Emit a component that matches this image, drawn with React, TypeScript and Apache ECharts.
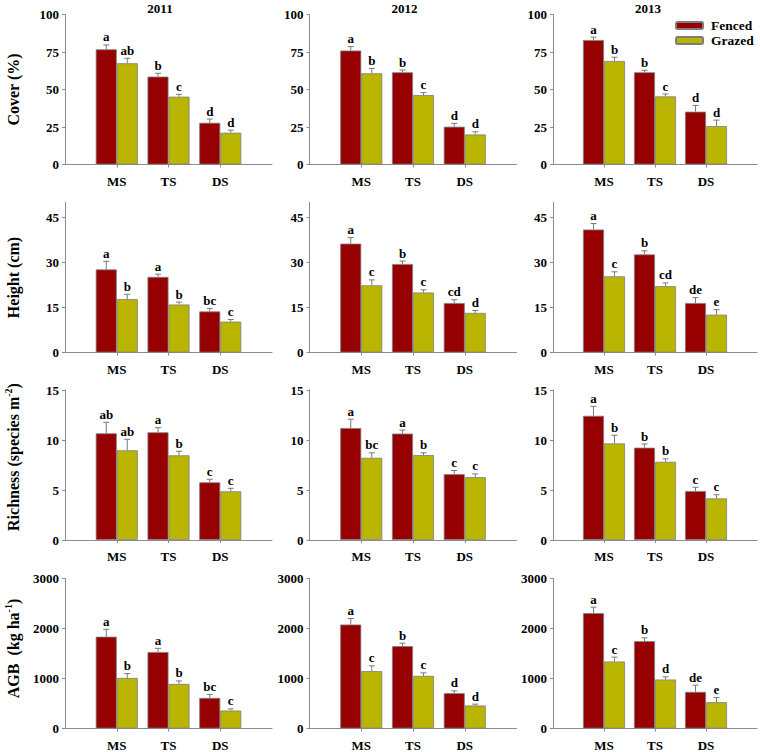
import React, { useEffect, useRef } from "react";
import * as echarts from "echarts";

const sites = ["", "MS", "TS", "DS", ""];
const years = ["2011", "2012", "2013"];

// Cover (%) — per year: [MS, TS, DS]
const coverFenced = [[76.8, 58.6, 27.8], [76.0, 61.5, 25.2], [83.0, 61.5, 35.2]];
const coverFencedSE = [[2.9, 2.2, 2.5], [2.6, 1.5, 2.2], [1.9, 1.3, 4.2]];
const coverGrazed = [[67.5, 45.2, 21.2], [60.8, 46.3, 20.0], [69.0, 45.4, 25.6]];
const coverGrazedSE = [[3.3, 1.6, 1.7], [3.2, 1.6, 1.8], [2.5, 1.6, 4.0]];
const coverFencedLetters = [["a", "b", "d"], ["a", "b", "d"], ["a", "b", "d"]];
const coverGrazedLetters = [["ab", "c", "d"], ["b", "c", "d"], ["b", "c", "d"]];

// Height (cm)
const heightFenced = [[27.7, 25.2, 13.7], [36.3, 29.5, 16.5], [41.0, 32.7, 16.5]];
const heightFencedSE = [[2.7, 0.9, 1.0], [2.0, 1.0, 1.1], [2.0, 1.2, 1.8]];
const heightGrazed = [[17.8, 16.0, 10.3], [22.4, 20.0, 13.2], [25.4, 22.1, 12.6]];
const heightGrazedSE = [[1.6, 0.8, 0.7], [1.8, 0.9, 0.8], [1.5, 1.1, 1.7]];
const heightFencedLetters = [["a", "a", "bc"], ["a", "b", "cd"], ["a", "b", "de"]];
const heightGrazedLetters = [["b", "b", "c"], ["c", "c", "d"], ["c", "cd", "e"]];

// Richness (species m-2)
const richFenced = [[10.67, 10.77, 5.77], [11.2, 10.64, 6.58], [12.42, 9.23, 4.9]];
const richFencedSE = [[1.1, 0.46, 0.3], [0.88, 0.36, 0.37], [0.94, 0.37, 0.37]];
const richGrazed = [[8.97, 8.47, 4.87], [8.22, 8.49, 6.28], [9.66, 7.82, 4.16]];
const richGrazedSE = [[1.1, 0.4, 0.3], [0.5, 0.23, 0.33], [0.81, 0.3, 0.37]];
const richFencedLetters = [["ab", "a", "c"], ["a", "a", "c"], ["a", "b", "c"]];
const richGrazedLetters = [["ab", "b", "c"], ["bc", "b", "c"], ["b", "b", "c"]];

// AGB (kg ha-1)
const agbFenced = [[1836, 1530, 612], [2080, 1647, 707], [2307, 1747, 733]];
const agbFencedSE = [[147, 73, 67], [120, 60, 46], [120, 66, 134]];
const agbGrazed = [[1011, 891, 359], [1147, 1053, 460], [1340, 980, 527]];
const agbGrazedSE = [[87, 60, 34], [106, 60, 27], [87, 53, 93]];
const agbFencedLetters = [["a", "a", "bc"], ["a", "b", "d"], ["a", "b", "de"]];
const agbGrazedLetters = [["b", "b", "c"], ["c", "c", "d"], ["c", "d", "e"]];

const yMaxes = [100, 50, 15, 3000];
const yTickValues = [
  [0, 25, 50, 75, 100],
  [0, 15, 30, 45],
  [0, 5, 10, 15],
  [0, 1000, 2000, 3000],
];
const yNames = [
  "{n|Cover (%)}",
  "{n|Height (cm)}",
  "{n|Richness (species m}{s|-2}{n|)}",
  "{n|AGB  (kg ha}{s|-1}{n|)}",
];

const FONT = '"Liberation Serif", "Times New Roman", serif';
const RED = "#970000";
const OLIVE = "#B9B500";

export default function App() {
  const ref = useRef<HTMLDivElement>(null);
  useEffect(() => {
    if (!ref.current) return;
    const chart = echarts.init(ref.current, null, { renderer: "svg" });

    const metrics = [
      [coverFenced, coverFencedSE, coverGrazed, coverGrazedSE, coverFencedLetters, coverGrazedLetters],
      [heightFenced, heightFencedSE, heightGrazed, heightGrazedSE, heightFencedLetters, heightGrazedLetters],
      [richFenced, richFencedSE, richGrazed, richGrazedSE, richFencedLetters, richGrazedLetters],
      [agbFenced, agbFencedSE, agbGrazed, agbGrazedSE, agbFencedLetters, agbGrazedLetters],
    ] as any[];

    const colLefts = [65, 309.5, 553];
    const rowTops = [14.5, 202.5, 390, 578.5];
    const namePads = [[0, 0, 0, 0], [0, 0, 0, 0], [0, 0, 0, 16], [0, 0, 0, 10]];
    const gw = 207;
    const gh = 150;
    const barW = 21;

    const grid: any[] = [];
    const xAxis: any[] = [];
    const yAxis: any[] = [];
    const series: any[] = [];
    const graphic: any[] = [];

    for (let r = 0; r < 4; r++) {
      for (let c = 0; c < 3; c++) {
        const idx = r * 3 + c;
        grid.push({ left: colLefts[c], top: rowTops[r], width: gw, height: gh, containLabel: false });
        xAxis.push({
          type: "category",
          gridIndex: idx,
          data: sites,
          boundaryGap: false,
          axisLine: { lineStyle: { color: "#8c8c8c", width: 1 } },
          axisTick: {
            show: true,
            length: 3,
            interval: (i: number) => i >= 1 && i <= 3,
            lineStyle: { color: "#8c8c8c" },
          },
          axisLabel: {
            interval: 0,
            margin: 10,
            color: "#000",
            fontFamily: FONT,
            fontWeight: "bold",
            fontSize: 13,
          },
          splitLine: { show: false },
        });
        yAxis.push({
          type: "value",
          gridIndex: idx,
          min: 0,
          max: yMaxes[r],
          interval: yTickValues[r][1],
          name: c === 0 ? yNames[r] : "",
          nameLocation: "middle",
          nameRotate: 90,
          nameGap: 42,
          nameTextStyle: {
            padding: namePads[r],
            rich: {
              n: { fontFamily: FONT, fontWeight: "bold", fontSize: 16, color: "#000", lineHeight: 20 },
              s: { fontFamily: FONT, fontWeight: "bold", fontSize: 10, color: "#000", verticalAlign: "top", lineHeight: 20 },
            },
          },
          axisLine: { show: true, lineStyle: { color: "#8c8c8c", width: 1 } },
          axisTick: {
            show: true,
            length: 3,
            customValues: yTickValues[r],
            lineStyle: { color: "#8c8c8c" },
          },
          axisLabel: {
            customValues: yTickValues[r],
            formatter: (v: number) => String(v),
            margin: 6,
            color: "#000",
            fontFamily: FONT,
            fontWeight: "bold",
            fontSize: 13,
          },
          splitLine: { show: false },
        });

        const m = metrics[r];
        const fVals = m[0][c], fSE = m[1][c], gVals = m[2][c], gSE = m[3][c];
        const fLet = m[4][c], gLet = m[5][c];

        series.push({
          type: "bar",
          name: "Fenced",
          xAxisIndex: idx,
          yAxisIndex: idx,
          data: ["-", ...fVals, "-"],
          barWidth: barW,
          barGap: "0%",
          itemStyle: { color: RED, borderColor: "#7d7d7d", borderWidth: 0.8 },
        });
        series.push({
          type: "bar",
          name: "Grazed",
          xAxisIndex: idx,
          yAxisIndex: idx,
          data: ["-", ...gVals, "-"],
          barWidth: barW,
          barGap: "0%",
          itemStyle: { color: OLIVE, borderColor: "#7d7d7d", borderWidth: 0.8 },
        });

        const errData: number[][] = [];
        const letters: string[] = [];
        for (let k = 0; k < 3; k++) {
          errData.push([k + 1, fVals[k], fSE[k], 0]);
          letters.push(fLet[k]);
          errData.push([k + 1, gVals[k], gSE[k], 1]);
          letters.push(gLet[k]);
        }
        series.push({
          type: "custom",
          xAxisIndex: idx,
          yAxisIndex: idx,
          z: 5,
          clip: false,
          silent: true,
          data: errData,
          renderItem: (params: any, api: any) => {
            const x = api.value(0);
            const v = api.value(1);
            const se = api.value(2);
            const g = api.value(3);
            const base = api.coord([x, v]);
            const top = api.coord([x, v + se]);
            const cx = base[0] + (g === 0 ? -barW / 2 : barW / 2);
            const stroke = { stroke: "#7a7a7a", lineWidth: 1 };
            return {
              type: "group",
              children: [
                { type: "line", shape: { x1: cx, y1: base[1], x2: cx, y2: top[1] }, style: stroke },
                { type: "line", shape: { x1: cx - 3, y1: top[1], x2: cx + 3, y2: top[1] }, style: stroke },
                {
                  type: "text",
                  x: cx,
                  y: top[1] - 1.5,
                  style: {
                    text: letters[params.dataIndex],
                    textAlign: "center",
                    textVerticalAlign: "bottom",
                    fontFamily: FONT,
                    fontWeight: "bold",
                    fontSize: 13,
                    fill: "#000",
                  },
                },
              ],
            };
          },
        });
      }
    }

    for (let c = 0; c < 3; c++) {
      graphic.push({
        type: "text",
        x: colLefts[c] + gw / 2 - 8.5,
        y: 8.5,
        style: {
          text: years[c],
          textAlign: "center",
          textVerticalAlign: "middle",
          fontFamily: FONT,
          fontWeight: "bold",
          fontSize: 13,
          fill: "#000",
        },
      });
    }

    chart.setOption({
      animation: false,
      backgroundColor: "#fff",
      grid,
      xAxis,
      yAxis,
      series,
      graphic,
      legend: {
        data: ["Fenced", "Grazed"],
        orient: "vertical",
        left: 675,
        top: 18.5,
        padding: 0,
        itemWidth: 27,
        itemHeight: 7,
        itemGap: 1,
        selectedMode: false,
        textStyle: {
          fontFamily: FONT,
          fontWeight: "bold",
          fontSize: 13.5,
          color: "#000",
          padding: [0, 0, 0, 3],
        },
      },
    });

    return () => chart.dispose();
  }, []);

  return (
    <div
      ref={ref}
      style={{ position: "fixed", left: 0, top: 0, width: 760, height: 752, background: "#fff" }}
    />
  );
}
